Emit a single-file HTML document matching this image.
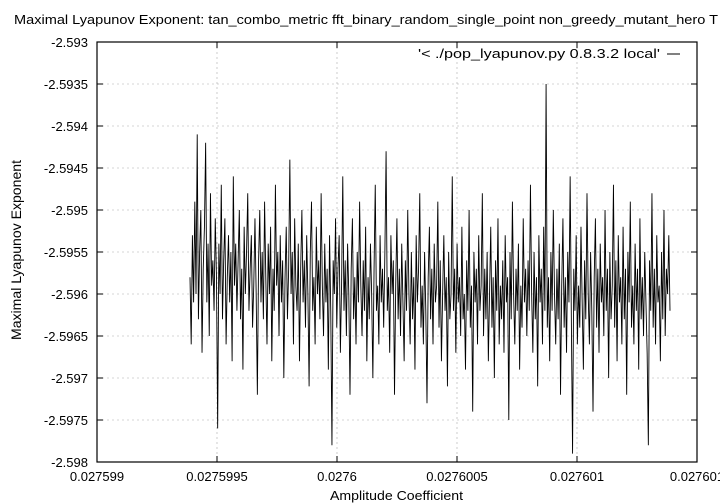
<!DOCTYPE html>
<html><head><meta charset="utf-8"><style>
body{margin:0;background:#fff}
svg{display:block;font-family:"Liberation Sans",sans-serif}
</style></head><body>
<svg id="chart" width="720" height="504">
<rect width="720" height="504" fill="#fff"/>
<text x="14" y="24" font-size="13" textLength="704" lengthAdjust="spacingAndGlyphs">Maximal Lyapunov Exponent: tan_combo_metric fft_binary_random_single_point non_greedy_mutant_hero T</text>
<g id="grid"></g>
<g id="axes"></g>
<path id="series" fill="none" stroke="#000" stroke-width="0.9"/>
<rect x="97" y="42" width="600" height="420" fill="none" stroke="#000" stroke-width="1.2"/>
<text x="418" y="58" font-size="13" textLength="242" lengthAdjust="spacingAndGlyphs">'&lt; ./pop_lyapunov.py 0.8.3.2 local'</text>
<line x1="667" y1="54" x2="680" y2="54" stroke="#000" stroke-width="1"/>
<text x="330" y="500" font-size="13" textLength="133" lengthAdjust="spacingAndGlyphs">Amplitude Coefficient</text>
<text transform="translate(21,340) rotate(-90)" font-size="14" textLength="180" lengthAdjust="spacingAndGlyphs">Maximal Lyapunov Exponent</text>
</svg>
<script>
const xTicks=[0.027599,0.0275995,0.0276,0.0276005,0.027601,0.0276015];
const xTickLabels=["0.027599","0.0275995","0.0276","0.0276005","0.027601","0.027601"];
const yTicks=[-2.593,-2.5935,-2.594,-2.5945,-2.595,-2.5955,-2.596,-2.5965,-2.597,-2.5975,-2.598];
const yTickLabels=["-2.593","-2.5935","-2.594","-2.5945","-2.595","-2.5955","-2.596","-2.5965","-2.597","-2.5975","-2.598"];
const xStart=0.0275993875, xEnd=0.0276013875;
const ys=[
-2.5958,-2.5966,-2.5953,-2.5961,-2.5949,-2.5960,-2.5941,-2.5963,-2.5955,-2.5950,-2.5967,-2.5957,-2.5952,-2.5942,-2.5961,-2.5954,-2.5965,-2.5948,-2.5959,-2.5956,
-2.5962,-2.5951,-2.5958,-2.5976,-2.5954,-2.5960,-2.5947,-2.5963,-2.5956,-2.5951,-2.5966,-2.5958,-2.5953,-2.5961,-2.5955,-2.5968,-2.5946,-2.5959,-2.5954,-2.5962,
-2.5956,-2.5950,-2.5963,-2.5957,-2.5969,-2.5952,-2.5960,-2.5955,-2.5948,-2.5962,-2.5957,-2.5953,-2.5964,-2.5959,-2.5951,-2.5960,-2.5972,-2.5956,-2.5950,-2.5961,
-2.5955,-2.5963,-2.5949,-2.5958,-2.5966,-2.5954,-2.5960,-2.5952,-2.5968,-2.5957,-2.5962,-2.5947,-2.5959,-2.5955,-2.5965,-2.5953,-2.5961,-2.5956,-2.5970,-2.5958,
-2.5952,-2.5963,-2.5957,-2.5944,-2.5960,-2.5955,-2.5966,-2.5951,-2.5959,-2.5962,-2.5954,-2.5968,-2.5957,-2.5950,-2.5961,-2.5956,-2.5964,-2.5953,-2.5960,-2.5971,
-2.5955,-2.5949,-2.5962,-2.5958,-2.5966,-2.5952,-2.5960,-2.5956,-2.5963,-2.5948,-2.5959,-2.5965,-2.5954,-2.5961,-2.5957,-2.5969,-2.5953,-2.5962,-2.5978,-2.5956,
-2.5960,-2.5951,-2.5964,-2.5957,-2.5953,-2.5967,-2.5959,-2.5946,-2.5962,-2.5956,-2.5965,-2.5954,-2.5960,-2.5972,-2.5957,-2.5951,-2.5963,-2.5958,-2.5966,-2.5955,
-2.5961,-2.5949,-2.5959,-2.5965,-2.5956,-2.5962,-2.5952,-2.5968,-2.5958,-2.5963,-2.5954,-2.5960,-2.5970,-2.5957,-2.5947,-2.5962,-2.5959,-2.5966,-2.5953,-2.5961,
-2.5957,-2.5964,-2.5955,-2.5943,-2.5962,-2.5958,-2.5967,-2.5953,-2.5960,-2.5956,-2.5972,-2.5959,-2.5951,-2.5963,-2.5957,-2.5965,-2.5954,-2.5961,-2.5968,-2.5956,
-2.5962,-2.5950,-2.5960,-2.5966,-2.5955,-2.5963,-2.5958,-2.5969,-2.5953,-2.5961,-2.5957,-2.5948,-2.5964,-2.5959,-2.5966,-2.5955,-2.5962,-2.5973,-2.5958,-2.5952,
-2.5963,-2.5957,-2.5966,-2.5954,-2.5961,-2.5959,-2.5949,-2.5964,-2.5956,-2.5968,-2.5960,-2.5953,-2.5962,-2.5958,-2.5971,-2.5955,-2.5963,-2.5960,-2.5946,-2.5962,
-2.5957,-2.5967,-2.5954,-2.5961,-2.5958,-2.5965,-2.5952,-2.5963,-2.5960,-2.5969,-2.5956,-2.5962,-2.5950,-2.5964,-2.5959,-2.5974,-2.5955,-2.5961,-2.5957,-2.5966,
-2.5953,-2.5962,-2.5959,-2.5948,-2.5965,-2.5957,-2.5963,-2.5955,-2.5968,-2.5960,-2.5952,-2.5964,-2.5958,-2.5970,-2.5956,-2.5962,-2.5951,-2.5966,-2.5959,-2.5963,
-2.5956,-2.5967,-2.5953,-2.5961,-2.5958,-2.5975,-2.5955,-2.5963,-2.5949,-2.5960,-2.5966,-2.5957,-2.5962,-2.5954,-2.5969,-2.5959,-2.5964,-2.5951,-2.5961,-2.5957,
-2.5965,-2.5956,-2.5962,-2.5947,-2.5960,-2.5967,-2.5955,-2.5963,-2.5958,-2.5971,-2.5953,-2.5961,-2.5957,-2.5966,-2.5952,-2.5962,-2.5935,-2.5964,-2.5958,-2.5968,
-2.5955,-2.5962,-2.5950,-2.5960,-2.5966,-2.5957,-2.5963,-2.5954,-2.5972,-2.5959,-2.5951,-2.5964,-2.5958,-2.5967,-2.5955,-2.5961,-2.5946,-2.5963,-2.5979,-2.5957,
-2.5962,-2.5953,-2.5966,-2.5959,-2.5964,-2.5952,-2.5961,-2.5969,-2.5956,-2.5963,-2.5948,-2.5960,-2.5966,-2.5955,-2.5962,-2.5974,-2.5958,-2.5951,-2.5964,-2.5957,
-2.5967,-2.5954,-2.5961,-2.5958,-2.5965,-2.5950,-2.5962,-2.5957,-2.5970,-2.5955,-2.5963,-2.5959,-2.5947,-2.5964,-2.5956,-2.5968,-2.5953,-2.5961,-2.5958,-2.5966,
-2.5952,-2.5963,-2.5957,-2.5972,-2.5955,-2.5961,-2.5949,-2.5964,-2.5959,-2.5966,-2.5954,-2.5962,-2.5957,-2.5969,-2.5951,-2.5963,-2.5958,-2.5965,-2.5955,-2.5961,
-2.5967,-2.5978,-2.5956,-2.5962,-2.5948,-2.5964,-2.5957,-2.5966,-2.5953,-2.5961,-2.5959,-2.5968,-2.5955,-2.5963,-2.5950,-2.5965,-2.5957,-2.5960,-2.5953,-2.5962];

const L=97,R=697,T=42,B=462;
const xMin=0.027599,xMax=0.0276015,yMin=-2.598,yMax=-2.593;
const sx=v=>L+(v-xMin)/(xMax-xMin)*(R-L);
const sy=v=>B-(v-yMin)/(yMax-yMin)*(B-T);
const NS="http://www.w3.org/2000/svg";
const grid=document.getElementById('grid'), axes=document.getElementById('axes');
function mk(tag,attrs,parent){const e=document.createElementNS(NS,tag);for(const k in attrs)e.setAttribute(k,attrs[k]);parent.appendChild(e);return e;}
yTicks.forEach((v,i)=>{
  const y=sy(v);
  if(i>0&&i<yTicks.length-1){
    const g=mk('line',{x1:L,x2:R,y1:y,y2:y,stroke:'#aaa','stroke-width':0.6,'stroke-dasharray':'2,3'},grid);
    
    
  }
  const t1=mk('line',{x1:L,x2:L+6,y1:y,y2:y,stroke:'#000'},axes);
  
  
  const t2=mk('line',{x1:R-6,x2:R,y1:y,y2:y,stroke:'#000'},axes);
  
  
  const tx=mk('text',{x:88,y:y+5,'font-size':13,'text-anchor':'end'},axes);
  tx.textContent=yTickLabels[i];
  
  
});
xTicks.forEach((v,i)=>{
  const x=sx(v);
  if(i>0&&i<xTicks.length-1){
    const g=mk('line',{x1:x,x2:x,y1:T,y2:B,stroke:'#aaa','stroke-width':0.6,'stroke-dasharray':'2,3'},grid);
    
    
  }
  const t1=mk('line',{x1:x,x2:x,y1:B-6,y2:B,stroke:'#000'},axes);
  
  
  const t2=mk('line',{x1:x,x2:x,y1:T,y2:T+6,stroke:'#000'},axes);
  
  
  const tx=mk('text',{x:x,y:481,'font-size':13,'text-anchor':'middle'},axes);
  tx.textContent=xTickLabels[i];
  
  
});
let d='';
ys.forEach((v,i)=>{
  const xv=xStart+(xEnd-xStart)*i/(ys.length-1);
  d+=(i?'L':'M')+sx(xv).toFixed(2)+','+sy(v).toFixed(2);
});
document.getElementById('series').setAttribute('d',d);
</script>
</body></html>
